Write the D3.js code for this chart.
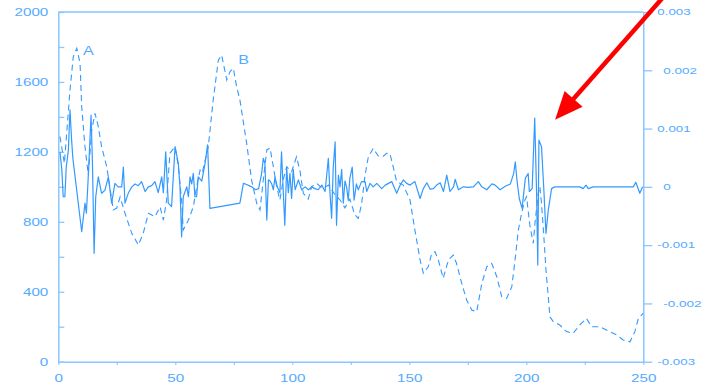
<!DOCTYPE html>
<meta charset="utf-8">
<style>
    body { margin: 0; background: #fff; }
    svg { display: block; font-family: "Liberation Sans", Arial, sans-serif; }
</style>
<div id="chart"></div>
<script src="https://d3js.org/d3.v7.min.js"></script>
<script>

    // dashed series (left axis)
    var dashX = [0.7, 2.6, 5, 6.4, 7.9, 9.3, 10, 11.4, 12.8, 14.3, 15.7, 17.1, 18.5, 20.7, 23.5, 25, 26.4, 28.5, 31.4, 34.2,
        36.3, 38.5, 41.3, 43.5, 44.9, 46.3, 47.7, 49.9, 51.3, 52.7, 53.4, 55.6, 57.7, 59.1, 60.6, 61.5, 64.1, 66.2, 68.4, 69.8,
        72, 73.4, 74.8, 76.2, 77.6, 80.5, 82.6, 84.8, 86.2, 87.6, 89.1, 90.5, 91.9, 93.3, 94.7, 96.1, 97.6, 99.7, 101.8, 103.3,
        104.7, 106.8, 108.3, 110.4, 113, 115.5, 118, 120.4, 122.5, 124.6, 126.7, 128.2, 129.6, 131.1, 132.5, 134.6, 136.8, 138.9, 140.3, 141.7,
        143.1, 144.6, 147.4, 150.3, 152.4, 154.6, 156, 158.1, 159.6, 161, 162.4, 164.5, 166.7, 168.8, 170.2, 172.4, 174.5, 176.7, 178.8, 181,
        183.1, 185.2, 187.4, 189.5, 191.6, 193.8, 195.2, 196.6, 198, 199.4, 200.1, 201.6, 203, 203.7, 205.1, 205.8, 206.5, 207.5, 208.4, 209.4,
        210.1, 211.5, 214.3, 217.2, 220, 222.9, 225.7, 227.9, 231.4, 235.7, 238.6, 241.4, 244.3, 246.4, 247.9, 250];
    var dashY = [1288, 1135, 1554, 1744, 1792, 1707, 1458, 1230, 1070, 1325, 1420, 1344, 1230, 1115, 868, 879, 942, 849, 734, 667,
        734, 849, 829, 886, 810, 925, 1192, 1230, 1115, 925, 753, 810, 886, 1001, 1096, 1080, 1230, 1497, 1725, 1754,
        1611, 1659, 1678, 1573, 1497, 1249, 1039, 906, 868, 1039, 1211, 1222, 1115, 1001, 925, 1039, 1115, 1087, 1172, 1090,
        963, 930, 1001, 1020, 990, 1010, 960, 925, 880, 930, 840, 820, 900, 1068, 1172, 1220, 1175, 1175, 1192, 1192,
        1115, 1030, 1010, 925, 753, 582, 506, 543, 620, 629, 582, 477, 582, 610, 562, 448, 353, 296, 286, 448,
        543, 563, 486, 372, 362, 429, 582, 753, 849, 925, 944, 772, 677, 792, 963, 1001, 906, 715, 524, 372,
        257, 229, 210, 172, 162, 210, 248, 200, 200, 172, 153, 124, 114, 172, 248, 277];

    // solid series (right axis)
    var solidX = [0.7, 1.5, 2.1, 2.8, 3.4, 4.3, 5, 5.7, 6.2, 10, 11.4, 12, 12.8, 14, 14.6, 15.3, 16, 17.1, 18.5, 19.9,
        21.4, 22.8, 24.2, 25.6, 27.1, 27.8, 28.5, 30, 31.4, 32.8, 34.2, 35.6, 37.1, 38.5, 39.9, 41.3, 42.7, 44.2, 44.9, 45.9,
        47, 48.4, 49.9, 51.3, 52, 52.7, 53.4, 54.9, 55.6, 56.3, 57, 57.7, 58.4, 59.1, 59.8, 61.3, 62.7, 63.8, 64.8, 77.6,
        79.1, 80.5, 82.6, 84.3, 85.6, 86.9, 87.6, 88.3, 89.1, 89.8, 90.5, 91.2, 91.9, 92.6, 93.6, 94.7, 95.4, 96.1, 96.8, 97.6,
        98.3, 99, 99.7, 100.4, 101.2, 102.6, 104, 105.5, 106.9, 108.3, 109.7, 111.1, 112.6, 114, 114.7, 115.4, 116.1, 116.8, 117.5, 118.3,
        118.9, 119.7, 120.4, 121.1, 121.8, 122.5, 123.2, 123.9, 124.6, 125.6, 126.4, 127.4, 128.2, 129.6, 131.1, 131.8, 133.2, 134.6, 136.1, 138.2,
        139.7, 141.1, 142.5, 144.6, 146.1, 147.5, 148.9, 150.3, 152.4, 154.6, 156, 157.5, 158.9, 160.3, 161.7, 163.2, 164.6, 166, 167.4, 168.9,
        169.6, 171, 173.1, 175.3, 177.4, 179.5, 181, 183.1, 185.3, 186.7, 188.8, 191, 193.2, 194.6, 195.3, 196, 197, 198.2, 199.6, 200.8,
        201.3, 202.5, 203.6, 204.4, 204.9, 205.4, 206.5, 207.5, 208.4, 209.4, 210.8, 212.2, 216, 222.9, 224.3, 225.5, 226.5, 228.6, 235, 245.7,
        246.8, 248.5, 249.7];
    var solidY = [0.0006, 0.0003, -0.00017, -0.00017, 0.00034, 0.00063, 0.00132, 0.0008, 0.0005, -0.00077, -0.00028, -0.00045, 0.00017, 0.00123, 0.0004, -0.00114, -0.00017, 0.00017, -0.00011, -0.00006,
        0.00017, -0.00028, 0.00006, 0, 0, 0.00034, -0.00028, -0.0001, 0, 0.00005, 0.00002, 0.00009, -0.00008, 0, 0.00002, 0.00009, -0.0001, 0.00017, -0.0001, 0.0006,
        -0.00028, -0.00034, 0.00069, 0.0004, 0, -0.00086, -0.00017, 0, -0.00017, 0.00017, 0.00005, 0.00023, -0.00017, -0.00017, 0.00017, 0.0001, 0.0004, 0.00072, -0.00037, -0.00028,
        0.00006, 0.00004, 0, -0.00005, -0.00003, 0.00023, 0.00049, 0.0004, -0.00057, 0.00012, 0.0001, 0.00005, -0.00005, 0.00017, 0, -0.0001, 0.0006, -0.00005, -0.00066, 0.00034,
        -0.0001, 0.00023, -0.0002, 0.0003, -0.00005, 0.00012, -0.00005, 0, -0.00005, 0, -0.00003, -0.00005, 0.00003, -0.00008, 0.0002, 0.00049, -0.0001, -0.00054, 0.00034, 0.00077,
        -0.00066, 0.0002, 0, 0.0003, -0.00028, 0.0001, 0, -0.00023, 0.00015, 0.00034, -0.00023, 0.00005, -0.00005, 0.00009, 0.00009, -0.00008, 0.00006, 0, 0.00006, -0.00003,
        0.00003, 0.00006, 0.00009, -0.00011, 0.00003, 0.00012, 0.00006, 0.00003, 0.00009, -0.0002, -0.00003, 0.00007, -0.00004, -0.00003, 0.00003, 0.00007, -0.00008, 0.0002, -0.00008, 0,
        0.00013, -0.00005, 0, -0.00001, 0, 0.00009, 0, -0.00005, 0.00005, 0.00003, -0.00005, 0.00001, 0.00005, 0.00023, 0.00043, 0.00012, -0.0002, -0.00037, 0.00015, 0.00023,
        -0.00008, -0.00003, 0.00118, -0.00011, -0.00134, 0.0008, 0.00069, -0.00005, -0.0008, -0.0004, -0.00003, 0, 0, 0, -0.00003, 0.00003, -0.00003, 0, 0, 0,
        0.00008, -0.00011, 0];

    var leftTicks = [0, 200, 400, 600, 800, 1000, 1200, 1400, 1600, 1800, 2000];
    var rightTicks = [-0.003, -0.002, -0.001, 0, 0.001, 0.002, 0.003];
    var bottomTicks = [0, 25, 50, 75, 100, 125, 150, 175, 200, 225, 250];

    var W = 703, H = 387;
    var margin = { top: 12, right: 60, bottom: 25.3, left: 58.3 };
    var axisCol = "#8ac6ff", textCol = "#55aaff", lineCol = "#3399ff";
    var sx = 1.45; // labels are drawn wide

    var svg = d3.select("#chart").append("svg")
        .attr("width", W)
        .attr("height", H);

    var x = d3.scaleLinear().domain([0, 250]).range([margin.left, 643.3]);
    var yL = d3.scaleLinear().domain([0, 2000]).range([H - margin.bottom, margin.top]);
    var yR = d3.scaleLinear().domain([-0.003, 0.003]).range([H - margin.bottom, margin.top]);

    function styleAxis(g) {
        g.select(".domain").attr("stroke", axisCol).attr("stroke-width", 1.5);
        g.selectAll(".tick line").attr("stroke", axisCol).attr("stroke-width", 1.3);
        g.selectAll("text").attr("fill", textCol);
    }

    // top frame line
    svg.append("line")
        .attr("x1", x(0)).attr("x2", x(250))
        .attr("y1", yL(2000)).attr("y2", yL(2000))
        .attr("stroke", axisCol).attr("stroke-width", 1.5);

    // left axis, ticks inward
    var gl = svg.append("g")
        .attr("transform", "translate(" + x(0) + ",0)")
        .call(d3.axisLeft(yL).tickValues(leftTicks).tickSizeInner(-6).tickSizeOuter(0).tickPadding(10)
            .tickFormat(function (d) { return d % 400 === 0 ? d : ""; }));
    gl.call(styleAxis);
    gl.selectAll("text").attr("font-size", 10.5).attr("transform", "scale(" + sx + ",1)").attr("x", -10 / sx);

    // bottom axis
    var gb = svg.append("g")
        .attr("transform", "translate(0," + yL(0) + ")")
        .call(d3.axisBottom(x).tickValues(bottomTicks).tickSizeInner(3).tickSizeOuter(0).tickPadding(10)
            .tickFormat(function (d) { return d % 50 === 0 ? d : ""; }));
    gb.call(styleAxis);
    gb.selectAll(".tick text")
        .attr("font-size", 10.5)
        .attr("transform", "scale(" + sx + ",1)");

    // right axis
    var gr = svg.append("g")
        .attr("transform", "translate(" + x(250) + ",0)")
        .call(d3.axisRight(yR).tickValues(rightTicks).tickSizeInner(9).tickSizeOuter(0).tickPadding(5)
            .tickFormat(function (d) { return d === 0 ? "0" : d.toFixed(3); }));
    gr.call(styleAxis);
    gr.selectAll(".tick text").each(function (d, i) {
        var big = i % 2 === 1;
        var k = big ? 1.38 : 1.55;
        d3.select(this)
            .attr("font-size", big ? 9.8 : 8.6)
            .attr("transform", "scale(" + k + ",1)")
            .attr("x", (big ? 20 : 14) / k);
    });

    // dashed line
    var dashData = dashX.map(function (d, i) { return [d, dashY[i]]; });
    svg.append("path")
        .datum(dashData)
        .attr("fill", "none")
        .attr("stroke", lineCol)
        .attr("stroke-width", 1.1)
        .attr("stroke-dasharray", "6,4")
        .attr("d", d3.line()
            .x(function (d) { return x(d[0]); })
            .y(function (d) { return yL(d[1]); }));

    // solid line
    var solidData = solidX.map(function (d, i) { return [d, solidY[i]]; });
    svg.append("path")
        .datum(solidData)
        .attr("fill", "none")
        .attr("stroke", lineCol)
        .attr("stroke-width", 1.2)
        .attr("stroke-linejoin", "round")
        .attr("d", d3.line()
            .x(function (d) { return x(d[0]); })
            .y(function (d) { return yR(d[1]); }));

    // peak labels
    var peaks = [{ t: "A", x: 10.6, y: 1754 }, { t: "B", x: 76.9, y: 1703 }];
    svg.selectAll(".peak")
        .data(peaks)
        .enter()
        .append("text")
        .attr("class", "peak")
        .attr("transform", function (d) { return "translate(" + x(d.x) + "," + yL(d.y) + ") scale(1.35,1)"; })
        .attr("fill", textCol)
        .attr("font-size", 12)
        .text(function (d) { return d.t; });

    // red arrow
    var tip = [x(212.3), yR(0.00115)], tail = [666, -6];
    var dx = tail[0] - tip[0], dy = tail[1] - tip[1], len = Math.sqrt(dx * dx + dy * dy);
    var ux = dx / len, uy = dy / len, px = -uy, py = ux;
    var hl = 28, hw = 12;
    var base = [tip[0] + ux * hl, tip[1] + uy * hl];
    svg.append("line")
        .attr("x1", base[0] - ux * 2).attr("y1", base[1] - uy * 2)
        .attr("x2", tail[0]).attr("y2", tail[1])
        .attr("stroke", "#ff0000")
        .attr("stroke-width", 4.5);
    svg.append("path")
        .attr("d", "M" + tip + "L" + [base[0] + px * hw, base[1] + py * hw] + "L" + [base[0] - px * hw, base[1] - py * hw] + "Z")
        .attr("fill", "#ff0000");

</script>
